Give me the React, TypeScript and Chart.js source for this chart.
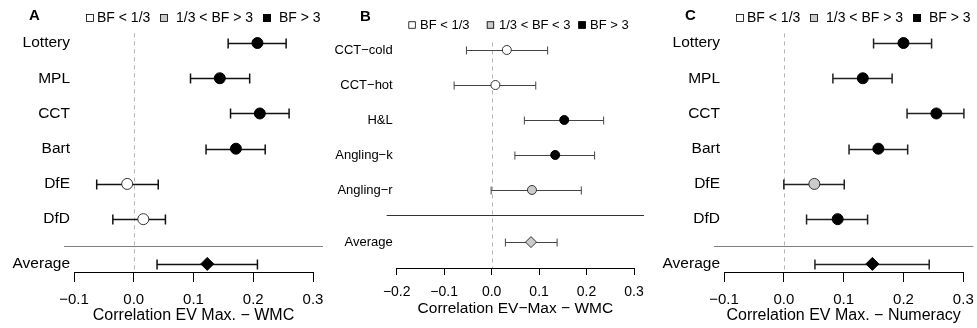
import React, { useEffect, useRef } from "react";
import { Chart, registerables } from "chart.js";

Chart.register(...registerables);

const FONT = "'Liberation Sans', Arial, Helvetica, sans-serif";

// ---------- Panel A : EV Max. vs WMC ----------
const labelsA = ["Lottery", "MPL", "CCT", "Bart", "DfE", "DfD", "Average"];
const estA = [0.207, 0.144, 0.211, 0.171, -0.011, 0.016, 0.123];
const lowA = [0.158, 0.095, 0.162, 0.121, -0.062, -0.035, 0.039];
const highA = [0.255, 0.194, 0.26, 0.22, 0.041, 0.053, 0.207];
const bfA = ["high", "high", "high", "high", "low", "low", "high"];
const xTicksA = [-0.1, 0, 0.1, 0.2, 0.3];
const legendA = ["BF < 1/3", "1/3 < BF > 3", "BF > 3"];
const axisTitleA = "Correlation EV Max. \u2212 WMC";

// ---------- Panel B : EV-Max vs WMC ----------
const labelsB = ["CCT\u2212cold", "CCT\u2212hot", "H&L", "Angling\u2212k", "Angling\u2212r", "Average"];
const estB = [0.032, 0.008, 0.153, 0.134, 0.085, 0.083];
const lowB = [-0.053, -0.079, 0.069, 0.049, -0.001, 0.029];
const highB = [0.118, 0.093, 0.236, 0.217, 0.189, 0.138];
const bfB = ["low", "low", "high", "high", "mid", "mid"];
const xTicksB = [-0.2, -0.1, 0, 0.1, 0.2, 0.3];
const legendB = ["BF < 1/3", "1/3 < BF < 3", "BF > 3"];
const axisTitleB = "Correlation EV\u2212Max \u2212 WMC";

// ---------- Panel C : EV Max. vs Numeracy ----------
const labelsC = ["Lottery", "MPL", "CCT", "Bart", "DfE", "DfD", "Average"];
const estC = [0.2, 0.132, 0.255, 0.158, 0.051, 0.09, 0.148];
const lowC = [0.15, 0.082, 0.206, 0.109, 0.0, 0.038, 0.052];
const highC = [0.247, 0.181, 0.301, 0.207, 0.101, 0.14, 0.243];
const bfC = ["high", "high", "high", "high", "mid", "high", "high"];
const xTicksC = [-0.1, 0, 0.1, 0.2, 0.3];
const legendC = ["BF < 1/3", "1/3 < BF > 3", "BF > 3"];
const axisTitleC = "Correlation EV Max. \u2212 Numeracy";

const FILL: Record<string, string> = { low: "#ffffff", mid: "#cbcbcb", high: "#000000" };

type Panel = {
  letter: string;
  labels: string[];
  est: number[];
  low: number[];
  high: number[];
  bf: string[];
  xTicks: number[];
  legend: string[];
  axisTitle: string;
  left: number;
  width: number;
  yScaleW: number;
  padRight: number;
  padTop: number;
  xScaleH: number;
  yMax: number;
  avgGap: number;
  sepGap: number;
  tickLen: number;
  tickPad: number;
  titlePadB: number;
  yFont: number;
  tickFont: number;
  titleFont: number;
  legendFont: number;
  r: number;
  dr: number;
  cap: number;
  lineW: number;
  lineC: string;
  sepC: string;
  dashTop: number;
  letterX: number;
  letterY: number;
  legY: number;
  legBox: number;
  legBoxX: number[];
  legTextX: number[];
};

const panels: Panel[] = [
  {
    letter: "A", labels: labelsA, est: estA, low: lowA, high: highA, bf: bfA,
    xTicks: xTicksA, legend: legendA, axisTitle: axisTitleA,
    left: 0, width: 325, yScaleW: 74, padRight: 12, padTop: 25.4, xScaleH: 56,
    yMax: 7.5, avgGap: 1.27, sepGap: 0.76, tickLen: 10, tickPad: 9, titlePadB: 3,
    yFont: 15.5, tickFont: 15, titleFont: 16, legendFont: 14,
    r: 5.5, dr: 6.5, cap: 5, lineW: 1.5, lineC: "#111", sepC: "#808080", dashTop: 8,
    letterX: 29, letterY: 16, legY: 18, legBox: 8,
    legBoxX: [86, 160, 263], legTextX: [97, 176, 279],
  },
  {
    letter: "B", labels: labelsB, est: estB, low: lowB, high: highB, bf: bfB,
    xTicks: xTicksB, legend: legendB, axisTitle: axisTitleB,
    left: 325, width: 325, yScaleW: 71.7, padRight: 16, padTop: 32.5, xScaleH: 60,
    yMax: 7.23, avgGap: 1.49, sepGap: 0.71, tickLen: 7, tickPad: 9, titlePadB: 10,
    yFont: 13, tickFont: 14, titleFont: 15.5, legendFont: 13,
    r: 4.5, dr: 5.5, cap: 4, lineW: 1, lineC: "#444", sepC: "#333", dashTop: 10,
    letterX: 35, letterY: 17, legY: 25, legBox: 7.5,
    legBoxX: [83.3, 161.7, 253.3], legTextX: [95, 174, 265],
  },
  {
    letter: "C", labels: labelsC, est: estC, low: lowC, high: highC, bf: bfC,
    xTicks: xTicksC, legend: legendC, axisTitle: axisTitleC,
    left: 650, width: 327, yScaleW: 74, padRight: 13.7, padTop: 25.4, xScaleH: 56,
    yMax: 7.5, avgGap: 1.27, sepGap: 0.76, tickLen: 10, tickPad: 9, titlePadB: 3,
    yFont: 15.5, tickFont: 15, titleFont: 16, legendFont: 14,
    r: 5.5, dr: 6.5, cap: 5, lineW: 1.5, lineC: "#222", sepC: "#808080", dashTop: 8,
    letterX: 35, letterY: 16, legY: 18, legBox: 8,
    legBoxX: [86, 160, 263], legTextX: [97, 176, 279],
  },
];

function rowPositions(p: Panel): number[] {
  const n = p.labels.length;
  return p.labels.map((_, i) => (i < n - 1 ? i + 1 : n - 1 + p.avgGap));
}

function buildConfig(p: Panel): any {
  const pos = rowPositions(p);
  const n = p.labels.length;
  const sepPos = n - 1 + p.sepGap;
  const isAvg = (i: number) => i === n - 1;

  const decor = {
    id: "forestDecor",
    beforeDatasetsDraw(chart: any) {
      const { ctx, chartArea } = chart;
      const xs = chart.scales.x;
      const ys = chart.scales.y;
      ctx.save();
      const x0 = Math.round(xs.getPixelForValue(0)) + 0.5;
      ctx.strokeStyle = "#b4b4b4";
      ctx.lineWidth = 1;
      ctx.setLineDash([4, 4]);
      ctx.beginPath();
      ctx.moveTo(x0, chartArea.top + p.dashTop);
      ctx.lineTo(x0, chartArea.bottom);
      ctx.stroke();
      ctx.setLineDash([]);
      const ySep = Math.round(ys.getPixelForValue(sepPos)) + 0.5;
      ctx.strokeStyle = p.sepC;
      ctx.lineWidth = 1.2;
      ctx.beginPath();
      ctx.moveTo(chartArea.left - 10, ySep);
      ctx.lineTo(chartArea.right + 10, ySep);
      ctx.stroke();
      ctx.strokeStyle = p.lineC;
      ctx.lineWidth = p.lineW;
      for (let i = 0; i < n; i++) {
        const y = Math.round(ys.getPixelForValue(pos[i])) + 0.5;
        const a = xs.getPixelForValue(p.low[i]);
        const b = xs.getPixelForValue(p.high[i]);
        ctx.beginPath();
        ctx.moveTo(a, y);
        ctx.lineTo(b, y);
        ctx.moveTo(a, y - p.cap);
        ctx.lineTo(a, y + p.cap);
        ctx.moveTo(b, y - p.cap);
        ctx.lineTo(b, y + p.cap);
        ctx.stroke();
      }
      ctx.restore();
    },
    afterDraw(chart: any) {
      const { ctx } = chart;
      ctx.save();
      ctx.fillStyle = "#000";
      ctx.textBaseline = "middle";
      ctx.textAlign = "left";
      ctx.font = `bold 15px ${FONT}`;
      ctx.fillText(p.letter, p.letterX, p.letterY);
      const fills = [FILL.low, FILL.mid, FILL.high];
      ctx.font = `${p.legendFont}px ${FONT}`;
      for (let k = 0; k < 3; k++) {
        const bx = p.legBoxX[k];
        ctx.fillStyle = fills[k];
        ctx.fillRect(bx, p.legY - p.legBox / 2, p.legBox, p.legBox);
        ctx.strokeStyle = "#000";
        ctx.lineWidth = 0.8;
        ctx.strokeRect(bx + 0.5, p.legY - p.legBox / 2 + 0.5, p.legBox - 1, p.legBox - 1);
        ctx.fillStyle = "#000";
        ctx.fillText(p.legend[k], p.legTextX[k], p.legY + 0.5);
      }
      ctx.restore();
    },
  };

  const fmt = (v: number) => {
    const s = (Math.abs(v) < 1e-9 ? 0 : v).toFixed(1);
    return s.replace("-", "\u2212");
  };

  return {
    type: "scatter",
    data: {
      datasets: [
        {
          data: p.est.map((v, i) => ({ x: v, y: pos[i] })),
          showLine: false,
          pointStyle: p.est.map((_, i) => (isAvg(i) ? "rectRot" : "circle")),
          pointRadius: p.est.map((_, i) => (isAvg(i) ? p.dr : p.r)),
          pointHoverRadius: p.est.map((_, i) => (isAvg(i) ? p.dr : p.r)),
          pointBackgroundColor: p.bf.map((b) => FILL[b]),
          pointBorderColor: p.bf.map((b) => (b === "high" ? "#000" : "#333")),
          pointBorderWidth: 1,
        },
      ],
    },
    options: {
      responsive: false,
      maintainAspectRatio: false,
      animation: false,
      devicePixelRatio: 1,
      events: [],
      layout: { padding: { left: 0, right: p.padRight, top: p.padTop, bottom: 0 } },
      plugins: { legend: { display: false }, tooltip: { enabled: false }, title: { display: false } },
      scales: {
        x: {
          type: "linear",
          min: p.xTicks[0],
          max: p.xTicks[p.xTicks.length - 1],
          afterBuildTicks: (s: any) => {
            s.ticks = p.xTicks.map((v) => ({ value: v }));
          },
          afterFit: (s: any) => {
            s.height = p.xScaleH;
            s.paddingLeft = 0;
            s.paddingRight = 0;
          },
          grid: {
            drawOnChartArea: false,
            drawTicks: true,
            tickLength: p.tickLen,
            color: "#000",
            lineWidth: 1,
          },
          border: { display: true, color: "#000", width: 1 },
          ticks: {
            autoSkip: false,
            maxRotation: 0,
            padding: p.tickPad,
            color: "#000",
            font: { family: FONT, size: p.tickFont },
            callback: (v: number) => fmt(v),
          },
          title: {
            display: true,
            text: p.axisTitle,
            color: "#000",
            font: { family: FONT, size: p.titleFont },
            padding: { top: 0, bottom: p.titlePadB },
          },
        },
        y: {
          type: "linear",
          reverse: true,
          min: 0.5,
          max: p.yMax,
          afterBuildTicks: (s: any) => {
            s.ticks = pos.map((v) => ({ value: v }));
          },
          afterFit: (s: any) => {
            s.width = p.yScaleW;
            s.paddingTop = 0;
            s.paddingBottom = 0;
          },
          grid: { display: false, drawTicks: false },
          border: { display: false },
          ticks: {
            autoSkip: false,
            padding: 4,
            color: "#000",
            font: { family: FONT, size: p.yFont },
            callback: (_v: number, idx: number) => p.labels[idx],
          },
        },
      },
    },
    plugins: [decor],
  };
}

function PanelChart({ p }: { p: Panel }) {
  const ref = useRef<HTMLCanvasElement | null>(null);
  useEffect(() => {
    if (!ref.current) return;
    const chart = new Chart(ref.current, buildConfig(p));
    return () => chart.destroy();
  }, [p]);
  return (
    <canvas
      ref={ref}
      width={p.width}
      height={328}
      style={{ position: "absolute", left: p.left, top: 0, width: p.width, height: 328, display: "block" }}
    />
  );
}

export default function App() {
  return (
    <div
      style={{
        position: "fixed",
        left: 0,
        top: 0,
        width: 977,
        height: 328,
        background: "#ffffff",
        overflow: "hidden",
      }}
    >
      {panels.map((p) => (
        <PanelChart key={p.letter} p={p} />
      ))}
    </div>
  );
}
